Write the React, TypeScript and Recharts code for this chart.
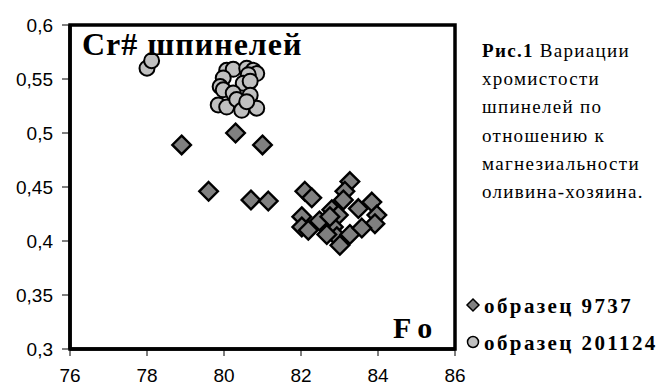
import { ScatterChart, Scatter, XAxis, YAxis, ReferenceArea } from "recharts"

// образец 9737 — diamonds
const fo9737 = [78.9, 80.3, 81.0, 79.6, 80.7, 81.15, 82.1, 82.28, 83.27, 83.14, 82.02, 82.02, 82.19, 82.48, 82.8, 82.97, 83.1, 82.84, 82.93, 83.01, 83.27, 83.49, 83.84, 83.97, 83.92, 83.58, 82.75, 82.67]
const cr9737 = [0.489, 0.5, 0.489, 0.446, 0.438, 0.437, 0.446, 0.44, 0.455, 0.446, 0.4225, 0.413, 0.41, 0.4185, 0.429, 0.424, 0.438, 0.413, 0.404, 0.396, 0.406, 0.43, 0.436, 0.424, 0.416, 0.412, 0.4225, 0.406]

// образец 201124 — circles
const fo201124 = [78.0, 78.12, 80.07, 80.24, 80.59, 80.76, 80.85, 80.63, 79.98, 79.9, 79.98, 80.5, 80.68, 80.24, 80.68, 79.85, 80.07, 80.33, 80.46, 80.85, 80.59]
const cr201124 = [0.56, 0.567, 0.558, 0.559, 0.56, 0.558, 0.555, 0.554, 0.551, 0.543, 0.54, 0.546, 0.548, 0.537, 0.535, 0.526, 0.524, 0.531, 0.521, 0.523, 0.529]

const xTicks = [76, 78, 80, 82, 84, 86]
const yTicks = [0.3, 0.35, 0.4, 0.45, 0.5, 0.55, 0.6]

const captionLines = ["хромистости", "шпинелей по", "отношению к", "магнезиальности", "оливина-хозяина."]

const data9737 = fo9737.map((fo, i) => ({ fo, cr: cr9737[i] }))
const data201124 = fo201124.map((fo, i) => ({ fo, cr: cr201124[i] }))

const serif = "Liberation Serif, Tinos, Times New Roman, DejaVu Serif, serif"
const sans = "Liberation Sans, Arimo, Arial, sans-serif"

const Diamond = (props: any) => {
  const { cx, cy } = props
  const h = 9.3
  return (
    <polygon
      points={`${cx},${cy - h} ${cx + h},${cy} ${cx},${cy + h} ${cx - h},${cy}`}
      fill="#808080"
      stroke="#000"
      strokeWidth={2.4}
    />
  )
}

const Dot = (props: any) => {
  const { cx, cy } = props
  return <circle cx={cx} cy={cy} r={7.5} fill="#c0c0c0" stroke="#000" strokeWidth={2} />
}

const fmt = (v: number) => String(v).replace(".", ",")

const serifText = { fontFamily: serif, fill: "#000" }

export default function App() {
  return (
    <div style={{ position: "absolute", left: 0, top: 0, width: 670, height: 388, background: "#fff" }}>
      <ScatterChart width={670} height={388} margin={{ top: 25, right: 215, bottom: 0, left: 0 }}>
        <XAxis
          type="number"
          dataKey="fo"
          domain={[76, 86]}
          ticks={xTicks}
          height={39}
          tickSize={7}
          tickMargin={13}
          axisLine={{ stroke: "#000", strokeWidth: 3.5 }}
          tickLine={{ stroke: "#000", strokeWidth: 1 }}
          tick={{ fill: "#000", fontSize: 19, fontFamily: sans }}
        />
        <YAxis
          type="number"
          dataKey="cr"
          domain={[0.3, 0.6]}
          ticks={yTicks}
          width={70}
          tickSize={8}
          tickMargin={9}
          tickFormatter={fmt}
          axisLine={{ stroke: "#000", strokeWidth: 3.5 }}
          tickLine={{ stroke: "#000", strokeWidth: 1 }}
          tick={{ fill: "#000", fontSize: 19, fontFamily: sans }}
        />
        <ReferenceArea x1={76} x2={86} y1={0.3} y2={0.6} fill="none" stroke="#000" strokeWidth={3.5} ifOverflow="visible" />
        <Scatter name="образец 9737" data={data9737} shape={Diamond} isAnimationActive={false} />
        <Scatter name="образец 201124" data={data201124} shape={Dot} isAnimationActive={false} />
      </ScatterChart>
      <svg width={670} height={388} style={{ position: "absolute", left: 0, top: 0, pointerEvents: "none" }}>
        <text x={82} y={55} style={{ ...serifText, fontWeight: "bold", fontSize: 32, letterSpacing: 1 }}>Cr# шпинелей</text>
        <text x={393} y={338} style={{ ...serifText, fontWeight: "bold", fontSize: 30, letterSpacing: 6 }}>Fo</text>

        <text x={482} y={57} style={{ ...serifText, fontSize: 19, letterSpacing: 1.3 }}>
          <tspan style={{ fontWeight: "bold" }}>Рис.1</tspan> Вариации
        </text>
        {captionLines.map((line, i) => (
          <text key={line} x={482} y={85 + i * 28.3} style={{ ...serifText, fontSize: 19, letterSpacing: 1.3 }}>{line}</text>
        ))}

        <polygon points="473,299 479,305 473,311 467,305" fill="#808080" stroke="#000" strokeWidth={1.5} />
        <text x={484} y={313} style={{ ...serifText, fontWeight: "bold", fontSize: 21, letterSpacing: 2.4 }}>образец 9737</text>
        <circle cx={473} cy={342} r={5.5} fill="#c0c0c0" stroke="#000" strokeWidth={1.5} />
        <text x={484} y={350} style={{ ...serifText, fontWeight: "bold", fontSize: 21, letterSpacing: 2.4 }}>образец 201124</text>
      </svg>
    </div>
  )
}
